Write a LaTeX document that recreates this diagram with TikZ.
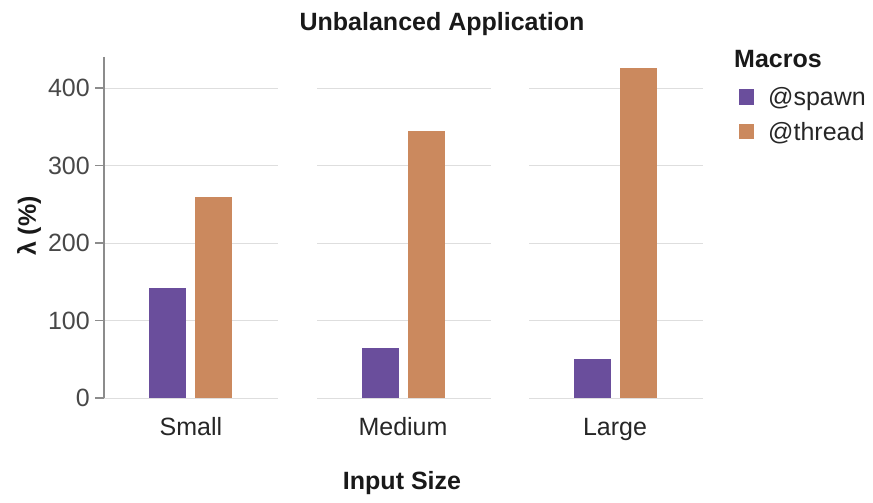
\documentclass[tikz,border=0pt]{standalone}
\usepackage{fontspec}
\setmainfont{Liberation Sans}
\definecolor{spawncol}{RGB}{106,78,156}
\definecolor{threadcol}{RGB}{203,137,94}
\definecolor{gridcol}{RGB}{222,222,222}
\definecolor{axiscol}{RGB}{140,140,140}
\definecolor{tickcol}{RGB}{72,72,72}
\begin{document}
\begin{tikzpicture}[x=1pt,y=-1pt,
    gridline/.style={draw=gridcol, line width=1pt},
    axisline/.style={draw=axiscol, line width=1.2pt},
    ticklabel/.style={anchor=east, inner sep=0pt, text=tickcol, font=\fontsize{25}{30}\selectfont},
    catlabel/.style={anchor=base, inner sep=0pt, text=black!85, font=\fontsize{25}{30}\selectfont},
    headlabel/.style={inner sep=0pt, text=black!90, font=\fontsize{25}{30}\selectfont\bfseries},
    legbox/.style={minimum size=15pt, inner sep=0pt}]
    \useasboundingbox (0,0) rectangle (873,503);
    % value v sits at y = 398 - 0.775 v

    % Grid lines of the three panels
    \foreach \px in {104,317,529}{
        \foreach \v in {0,100,200,300,400}
            \draw [gridline] (\px,{398-0.775*\v}) -- ({\px+174},{398-0.775*\v});
    }

    % Value axis with ticks
    \draw [axisline] (104,57) -- (104,398);
    \foreach \v/\name in {0/t0,100/t1,200/t2,300/t3,400/t4}{
        \draw [axisline] (95,{398-0.775*\v}) -- (104,{398-0.775*\v});
        \node [ticklabel] (\name) at (90,{398-0.775*\v}) {\v};
    }

    % Bars: @spawn then @thread per input size
    \foreach \px/\vs/\vt in {104/142/260, 317/64/344, 529/50/426}{
        \fill [spawncol] ({\px+45},398) rectangle ({\px+82},{398-0.775*\vs});
        \fill [threadcol] ({\px+91},398) rectangle ({\px+128},{398-0.775*\vt});
    }

    % Category names
    \node [catlabel] (small) at (191,435) {Small};
    \node [catlabel] (medium) at (403,435) {Medium};
    \node [catlabel] (large) at (615,435) {Large};

    % Titles
    \node [headlabel, anchor=base] (title) at (442,31) {Unbalanced Application};
    \node [headlabel, anchor=base] (xlabel) at (402,489) {Input Size};
    \node [headlabel, rotate=90] (ylabel) at (29,226) {λ (\%)};

    % Legend
    \node [headlabel, anchor=base west] (legtitle) at (734,68) {Macros};
    \node [legbox, fill=spawncol] (spawnbox) at (746,97) {};
    \node [legbox, fill=threadcol] (threadbox) at (746,131) {};
    \node [catlabel, anchor=base west] (spawntext) at (768,106) {@spawn};
    \node [catlabel, anchor=base west] (threadtext) at (768,140) {@thread};
\end{tikzpicture}
\end{document}
